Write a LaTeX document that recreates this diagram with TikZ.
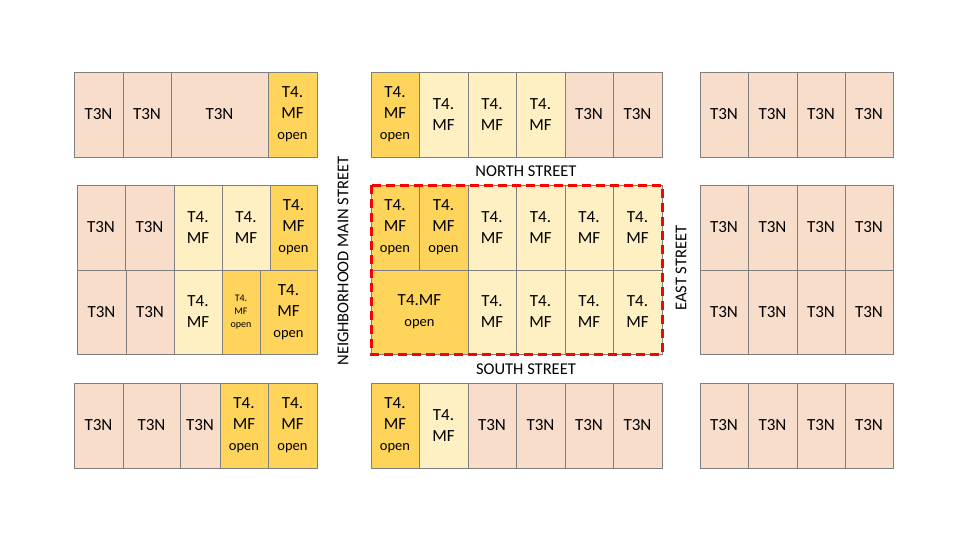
\documentclass[tikz,border=0pt]{standalone}
\usepackage{fontspec}
\setmainfont{Carlito}
\definecolor{tn}{HTML}{F8DDCB}
\definecolor{tl}{HTML}{FFF0C4}
\definecolor{to}{HTML}{FFD45B}
\definecolor{bd}{HTML}{7F7F7F}
\begin{document}
\begin{tikzpicture}[x=1pt,y=-1pt,
 cell/.style={draw=bd,line width=0.8pt},
 lab/.style={align=center,font=\fontsize{17}{21}\selectfont,inner sep=0pt},
 st/.style={font=\fontsize{16.5}{18}\selectfont,inner sep=0pt}]
\useasboundingbox (0,0) rectangle (977,550);
\newcommand\Tn[4]{\draw[cell,fill=tn] (#1,#3) rectangle (#2,#4); \node[lab] at ({(#1+#2)/2},{(#3+#4)/2}) {T3N};}
\newcommand\Tl[4]{\draw[cell,fill=tl] (#1,#3) rectangle (#2,#4); \node[lab] at ({(#1+#2)/2},{(#3+#4)/2}) {T4.\\MF};}
\newcommand\To[4]{\draw[cell,fill=to] (#1,#3) rectangle (#2,#4); \node[lab] at ({(#1+#2)/2},{(#3+#4)/2}) {T4.\\MF\\{\fontsize{14.5}{17}\selectfont open}};}
% block A
\Tn{74}{123}{72}{157}\Tn{123}{171}{72}{157}\Tn{171}{268}{72}{157}\To{268}{317}{72}{157}
% block B
\Tn{77}{125}{185}{270}\Tn{125}{174}{185}{270}\Tl{174}{222}{185}{270}\Tl{222}{270}{185}{270}\To{270}{317}{185}{270}
\Tn{77}{126}{270}{354}\Tn{126}{174}{270}{354}\Tl{174}{222}{270}{354}
\draw[cell,fill=to] (222,270) rectangle (260,354);
\node[lab,font=\fontsize{10}{13}\selectfont] at (241,312) {T4.\\MF\\open};
\To{260}{317}{270}{354}
% block C
\Tn{74}{123}{383}{468}\Tn{123}{180}{383}{468}\Tn{180}{220}{383}{468}\To{220}{268}{383}{468}\To{268}{317}{383}{468}
% middle top
\To{371}{419}{72}{157}\Tl{419}{468}{72}{157}\Tl{468}{516}{72}{157}\Tl{516}{565}{72}{157}\Tn{565}{613}{72}{157}\Tn{613}{662}{72}{157}
% middle block
\To{371}{419}{185}{270}\To{419}{468}{185}{270}\Tl{468}{516}{185}{270}\Tl{516}{565}{185}{270}\Tl{565}{613}{185}{270}\Tl{613}{662}{185}{270}
\draw[cell,fill=to] (371,270) rectangle (468,354);
\node[lab] at (419.5,312) {T4.MF\\{\fontsize{14.5}{17}\selectfont open}};
\Tl{468}{516}{270}{354}\Tl{516}{565}{270}{354}\Tl{565}{613}{270}{354}\Tl{613}{662}{270}{354}
% middle bottom
\To{371}{419}{383}{468}\Tl{419}{468}{383}{468}\Tn{468}{516}{383}{468}\Tn{516}{565}{383}{468}\Tn{565}{613}{383}{468}\Tn{613}{662}{383}{468}
% right
\foreach \ya/\yb in {72/157,185/270,270/354,383/468}{
 \Tn{700}{748}{\ya}{\yb}\Tn{748}{797}{\ya}{\yb}\Tn{797}{845}{\ya}{\yb}\Tn{845}{893}{\ya}{\yb}}
\draw[red,line width=3pt,dash pattern=on 9pt off 5pt] (371,185) rectangle (662,354);
\node[st] (ns) at (526,171) {NORTH STREET};
\node[st] (ss) at (526,369) {SOUTH STREET};
\node[st,rotate=90] (nm) at (343,261) {NEIGHBORHOOD MAIN STREET};
\node[st,rotate=90] (es) at (681,268) {EAST STREET};
\end{tikzpicture}
\end{document}
